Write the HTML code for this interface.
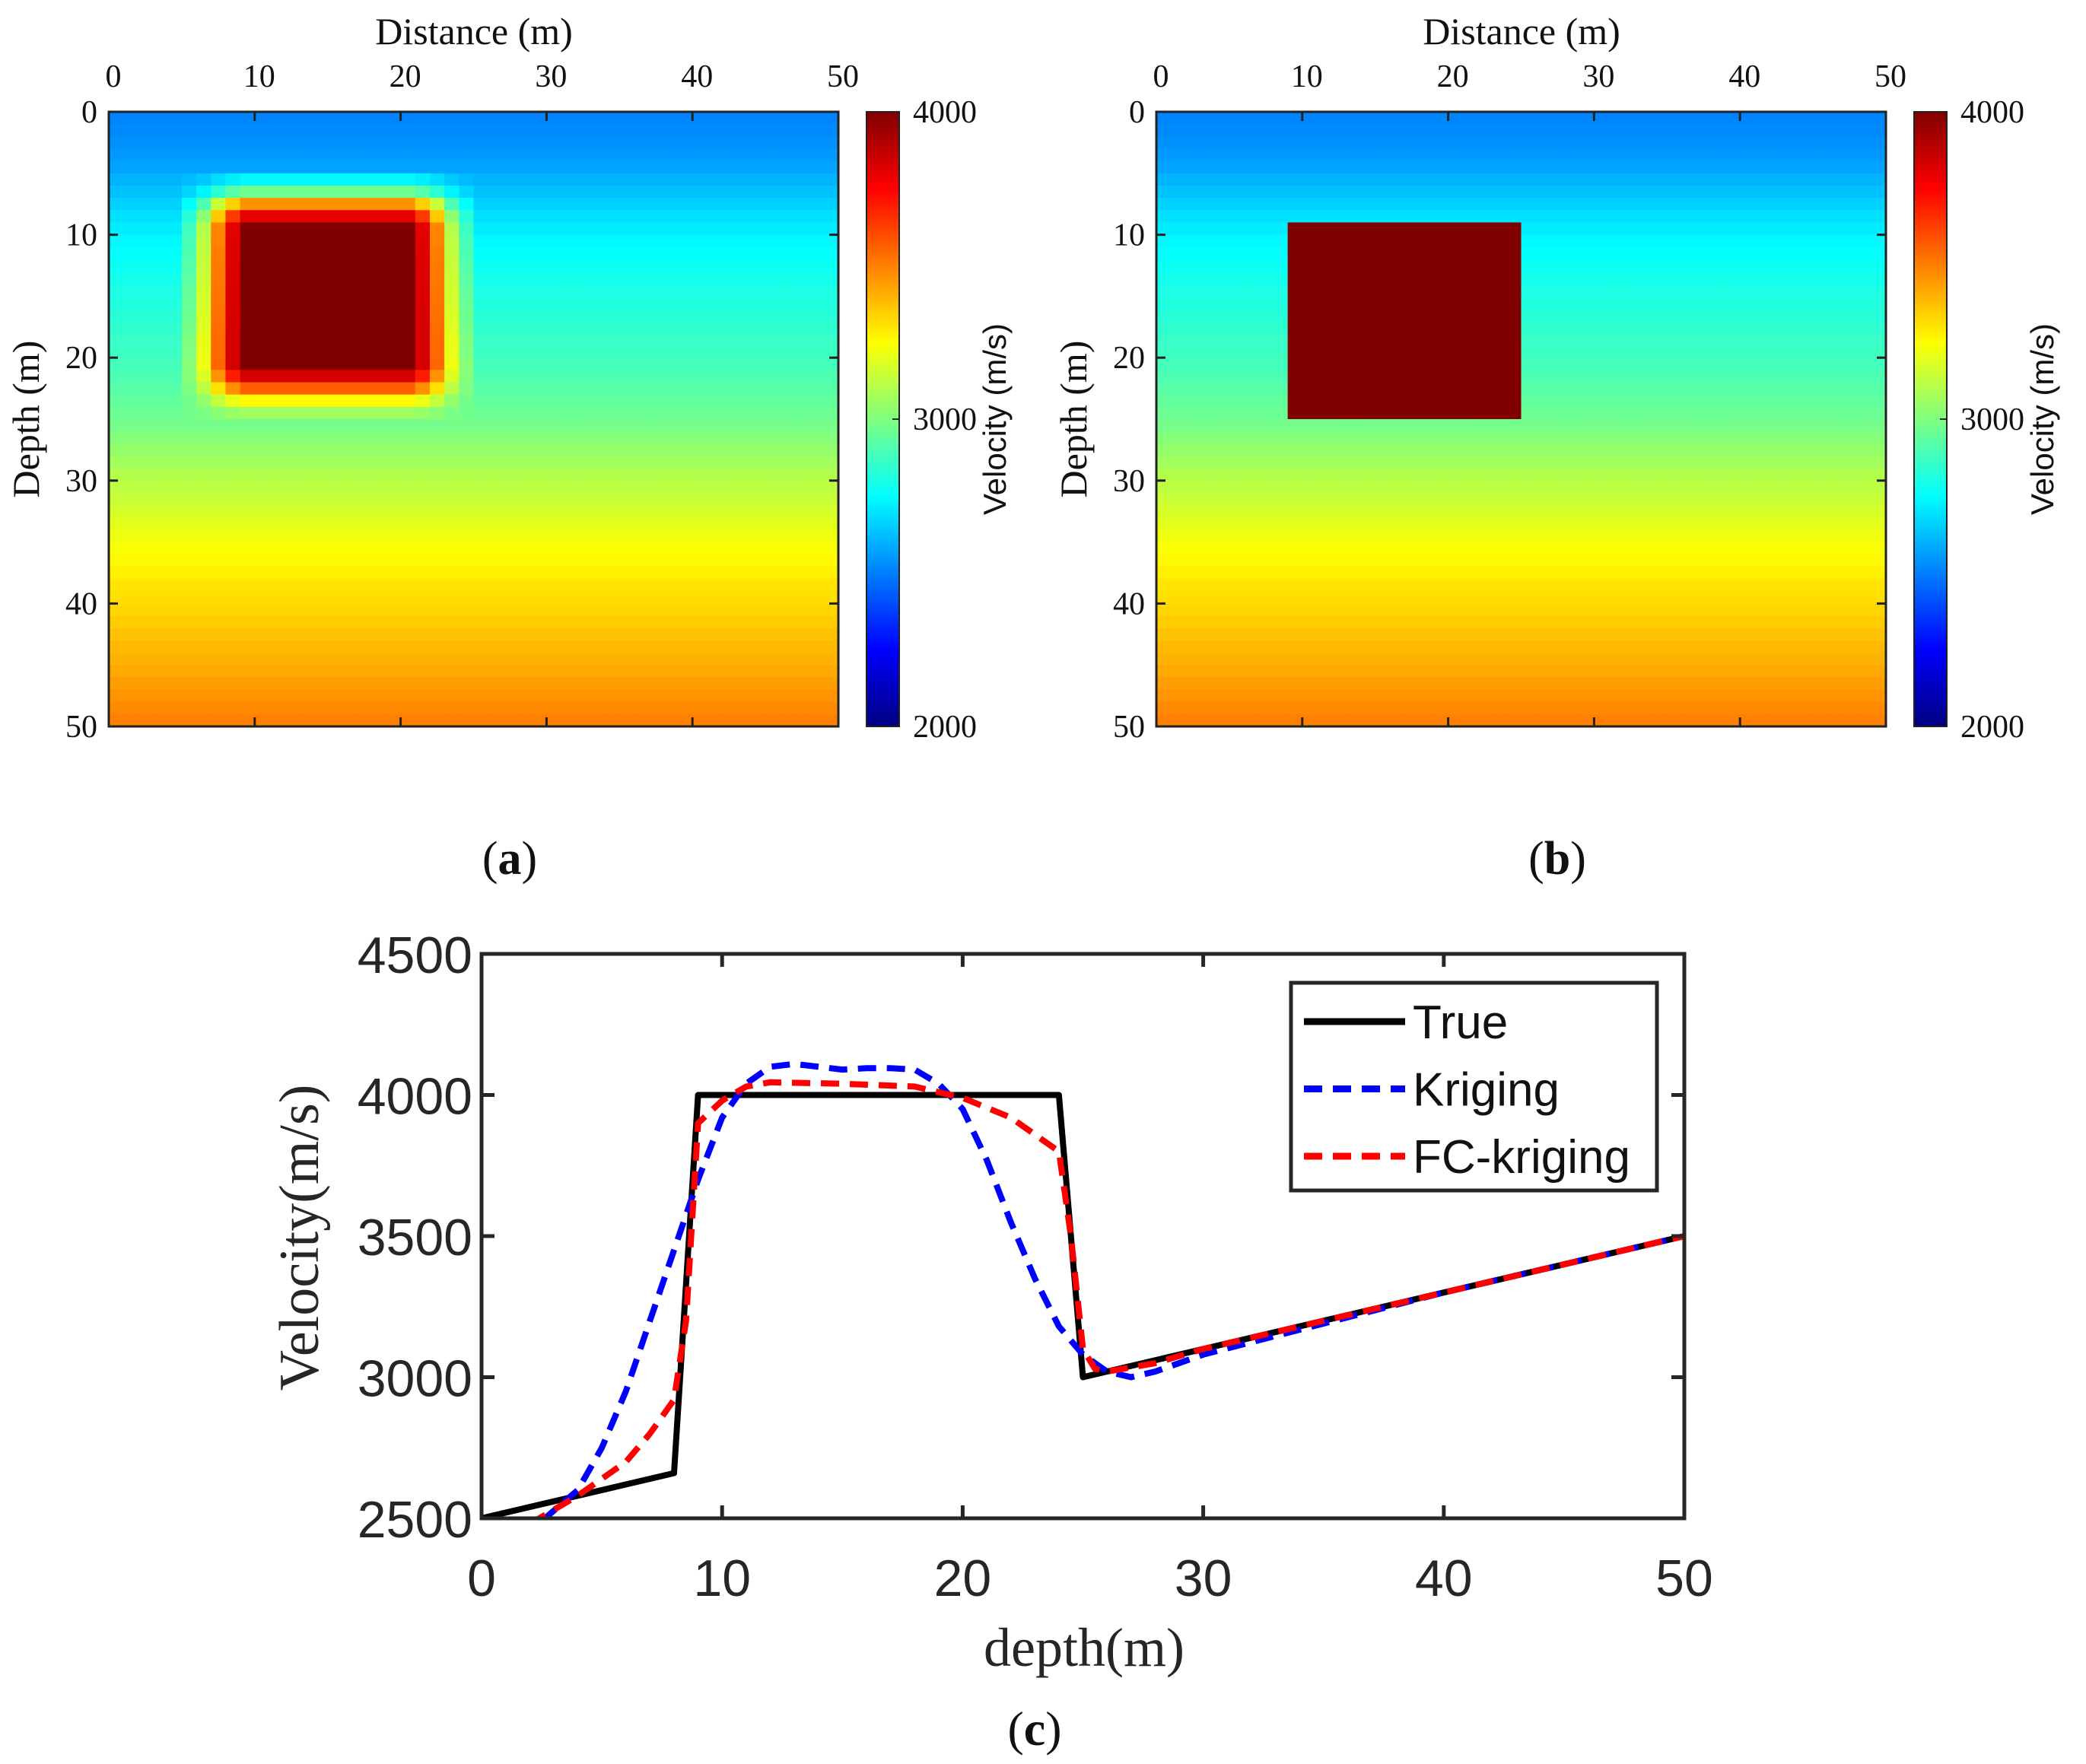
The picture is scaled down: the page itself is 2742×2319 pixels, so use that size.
<!DOCTYPE html>
<html><head><meta charset="utf-8">
<style>
html,body{margin:0;padding:0;background:#fff;}
svg{display:block;}
.ser{font-family:"Liberation Serif",serif;}
.san{font-family:"Liberation Sans",sans-serif;}
</style></head>
<body>
<svg id="fig" width="2742" height="2319" viewBox="0 0 2742 2319" xmlns="http://www.w3.org/2000/svg">
<defs>
<linearGradient id="jetgrad" x1="0" y1="1" x2="0" y2="0">
<stop offset="0" stop-color="#000080"/><stop offset="0.125" stop-color="#0000ff"/><stop offset="0.375" stop-color="#00ffff"/><stop offset="0.625" stop-color="#ffff00"/><stop offset="0.875" stop-color="#ff0000"/><stop offset="1" stop-color="#800000"/>
</linearGradient>
</defs>
<g id="panelA"></g>
<g id="panelB"></g>
<g id="panelC"></g>
</svg>
<script>
// ---------- data ----------
const bgProfile = [2510,2520,2535,2550,2570,2600,2630,2660,2690,2715,2740,2755,2770,2785,2800,2812,2825,2840,2855,2868,2880,2900,2920,2940,2960,2980,3010,3040,3070,3100,3120,3145,3170,3195,3220,3240,3260,3280,3300,3315,3330,3350,3370,3385,3400,3420,3440,3460,3480,3500];
const anomColW = [0,0,0,0,0,0.12,0.3,0.6,0.85,1,1,1,1,1,1,1,1,1,1,1,1,0.85,0.6,0.3,0.12,0,0,0,0,0,0,0,0,0,0,0,0,0,0,0,0,0,0,0,0,0,0,0,0,0];
const anomRowW = [0,0,0,0,0,0.1,0.25,0.6,0.85,1,1,1,1,1,1,1,1,1,1,1,1,0.85,0.6,0.3,0.1,0,0,0,0,0,0,0,0,0,0,0,0,0,0,0,0,0,0,0,0,0,0,0,0,0];
const boxB = {c0:9, c1:24, r0:9, r1:24, v:4000};
const distTicks = [0,10,20,30,40,50];
const depthTicks = [0,10,20,30,40,50];
const cbTicks = [2000,3000,4000];

const xTrue = [0,8,9,24,25,50];
const yTrue = [2500,2660,4000,4000,3000,3500];
const xKrig = [2.5,4,5,6,7,8,9,10,11,12,13,14,15,16,17,18,19,20,21,22,23,24,25,26,27,28,30,35,40,45,50];
const yKrig = [2490,2600,2750,2950,3200,3450,3700,3920,4040,4100,4110,4100,4090,4095,4095,4090,4040,3950,3770,3550,3350,3180,3080,3020,3000,3020,3080,3190,3300,3400,3500];
const xFC = [2,4,6,7,8,8.5,9,10,11,12,15,18,19,20,22,24,24.5,25,25.5,26,28,30,40,50];
const yFC = [2480,2580,2700,2800,2920,3200,3900,3980,4030,4045,4040,4030,4010,3990,3920,3800,3500,3100,3030,3020,3050,3100,3300,3500];
const cXTicks = [0,10,20,30,40,50];
const cYTicks = [2500,3000,3500,4000,4500];
const legendLabels = ["True","Kriging","FC-kriging"];

// ---------- helpers ----------
const NS="http://www.w3.org/2000/svg";
function mk(tag,attrs,parent,txt){const e=document.createElementNS(NS,tag);for(const k in attrs)e.setAttribute(k,attrs[k]);if(txt!==undefined)e.textContent=txt;parent.appendChild(e);return e;}
function jet(t){t=Math.max(0,Math.min(1,t));
 const r=Math.max(0,Math.min(1,Math.min(4*t-1.5,-4*t+4.5)));
 const g=Math.max(0,Math.min(1,Math.min(4*t-0.5,-4*t+3.5)));
 const b=Math.max(0,Math.min(1,Math.min(4*t+0.5,-4*t+2.5)));
 return `rgb(${Math.round(r*255)},${Math.round(g*255)},${Math.round(b*255)})`;}

function heatPanel(g,ox,valFn,suffix){
 const L=ox,R=ox+959,T=147,B=955;
 const sx=d=>L+(R-L)*d/50, sy=d=>T+(B-T)*d/50;
 const cells=mk('g',{},g);
 
 
 for(let r=0;r<50;r++)for(let c=0;c<50;c++){
  const v=valFn(r,c);
  const x0=sx(c),x1=sx(c+1),y0=sy(r),y1=sy(r+1);
  const rc=mk('rect',{x:x0.toFixed(2),y:y0.toFixed(2),width:(x1-x0+0.6).toFixed(2),height:(y1-y0+0.6).toFixed(2),fill:jet((v-2000)/2000)},cells);
  
  
 }
 const fr=mk('rect',{x:L,y:T,width:R-L,height:B-T,fill:'none',stroke:'#222','stroke-width':3},g);
 
 
 distTicks.forEach(d=>{const x=sx(d);
  mk('line',{x1:x,y1:T,x2:x,y2:T+12,stroke:'#222','stroke-width':3},g);
  mk('line',{x1:x,y1:B,x2:x,y2:B-12,stroke:'#222','stroke-width':3},g);
  const t=mk('text',{x:x+6,y:114,'font-size':42,'text-anchor':'middle',class:'ser',fill:'#111'},g,String(d));
  
  
 });
 depthTicks.forEach(d=>{const y=sy(d);
  mk('line',{x1:L,y1:y,x2:L+12,y2:y,stroke:'#222','stroke-width':3},g);
  mk('line',{x1:R,y1:y,x2:R-12,y2:y,stroke:'#222','stroke-width':3},g);
  const t=mk('text',{x:L-15,y:y+14,'font-size':42,'text-anchor':'end',class:'ser',fill:'#111'},g,String(d));
  
  
 });
 const xt=mk('text',{x:L+480,y:58,'font-size':50,'text-anchor':'middle',class:'ser',fill:'#111'},g,'Distance (m)');
 
 
 const yt=mk('text',{x:0,y:0,'font-size':50,'text-anchor':'middle',class:'ser',fill:'#111',transform:`translate(${L-92},${(T+B)/2}) rotate(-90)`},g,'Depth (m)');
 
 
 // colorbar
 const cx=ox+996,cw=43;
 const cb=mk('rect',{x:cx,y:T,width:cw,height:B-T,fill:'url(#jetgrad)',stroke:'#222','stroke-width':2},g);
 
 
 cbTicks.forEach(v=>{const y=B-(B-T)*(v-2000)/2000;
  mk('line',{x1:cx+cw-9,y1:y,x2:cx+cw,y2:y,stroke:'#222','stroke-width':2},g);
  const t=mk('text',{x:cx+cw+18,y:y+14,'font-size':42,class:'ser',fill:'#111'},g,String(v));
  
  
 });
 const ct=mk('text',{x:0,y:0,'font-size':42,'text-anchor':'middle',class:'san',fill:'#111',transform:`translate(${cx+183},${(T+B)/2}) rotate(-90)`},g,'Velocity (m/s)');
 
 
 const pl=mk('text',{x:L+527,y:1149,'font-size':62,'text-anchor':'middle',class:'ser',fill:'#111'},g,'');
 pl.innerHTML='(<tspan font-weight="bold">'+suffix+'</tspan>)';
 
 
}

heatPanel(document.getElementById('panelA'),143,(r,c)=>{const bg=bgProfile[r];return bg+(4000-bg)*anomColW[c]*anomRowW[r];},'a');
heatPanel(document.getElementById('panelB'),1520,(r,c)=>{
 if(c>=boxB.c0&&c<=boxB.c1&&r>=boxB.r0&&r<=boxB.r1)return boxB.v;return bgProfile[r];},'b');

// ---------- panel c ----------
(function(){
 const g=document.getElementById('panelC');
 const L=633,R=2214,T=1254,B=1996;
 const sx=d=>L+(R-L)*d/50, sy=v=>B-(B-T)*(v-2500)/2000;
 const clip=mk('clipPath',{id:'cclip'},g);
 mk('rect',{x:L,y:T,width:R-L,height:B-T},clip);
 function series(xs,ys,color,dash,name){
  const p=mk('polyline',{points:xs.map((x,i)=>sx(x).toFixed(1)+','+sy(ys[i]).toFixed(1)).join(' '),fill:'none',stroke:color,'stroke-width':8,'stroke-linejoin':'round','clip-path':'url(#cclip)'},g);
  if(dash)p.setAttribute('stroke-dasharray',dash);
  
  
 }
 series(xTrue,yTrue,'#000','', 'true-line');
 series(xKrig,yKrig,'#0000ff','24 14','kriging-line');
 series(xFC,yFC,'#ff0000','24 14','fc-kriging-line');
 const fr=mk('rect',{x:L,y:T,width:R-L,height:B-T,fill:'none',stroke:'#262626','stroke-width':5},g);
 
 
 cXTicks.forEach(d=>{const x=sx(d);
  mk('line',{x1:x,y1:B,x2:x,y2:B-17,stroke:'#262626','stroke-width':5},g);
  mk('line',{x1:x,y1:T,x2:x,y2:T+17,stroke:'#262626','stroke-width':5},g);
  const t=mk('text',{x:x,y:2098,'font-size':68,'text-anchor':'middle',class:'san',fill:'#262626'},g,String(d));
  
  
 });
 cYTicks.forEach(v=>{const y=sy(v);
  mk('line',{x1:L,y1:y,x2:L+17,y2:y,stroke:'#262626','stroke-width':5},g);
  mk('line',{x1:R,y1:y,x2:R-17,y2:y,stroke:'#262626','stroke-width':5},g);
  const t=mk('text',{x:L-12,y:y+25,'font-size':68,'text-anchor':'end',class:'san',fill:'#262626'},g,String(v));
  
  
 });
 const xt=mk('text',{x:1425,y:2190,'font-size':72,'text-anchor':'middle',class:'ser',fill:'#262626'},g,'depth(m)');
 
 
 const yt=mk('text',{x:0,y:0,'font-size':74,'text-anchor':'middle',class:'ser',fill:'#262626',transform:`translate(418,1627) rotate(-90)`},g,'Velocity(m/s)');
 
 
 const pl=mk('text',{x:1360,y:2294,'font-size':64,'text-anchor':'middle',class:'ser',fill:'#111'},g,'');
 pl.innerHTML='(<tspan font-weight="bold">c</tspan>)';
 
 
 // legend
 const lg=mk('g',{},g);
 
 
 mk('rect',{x:1697,y:1292,width:481,height:273,fill:'#fff',stroke:'#262626','stroke-width':5},lg);
 const cols=['#000','#0000ff','#ff0000'],dashes=['','24 14','24 14'];
 legendLabels.forEach((lab,i)=>{const y=1343+i*88.5;
  const ln=mk('line',{x1:1714,y1:y,x2:1847,y2:y,stroke:cols[i],'stroke-width':9},lg);
  if(dashes[i])ln.setAttribute('stroke-dasharray',dashes[i]);
  const t=mk('text',{x:1857,y:y+22,'font-size':62,class:'san',fill:'#111'},lg,lab);
  
  
 });
})();
</script>
</body></html>
